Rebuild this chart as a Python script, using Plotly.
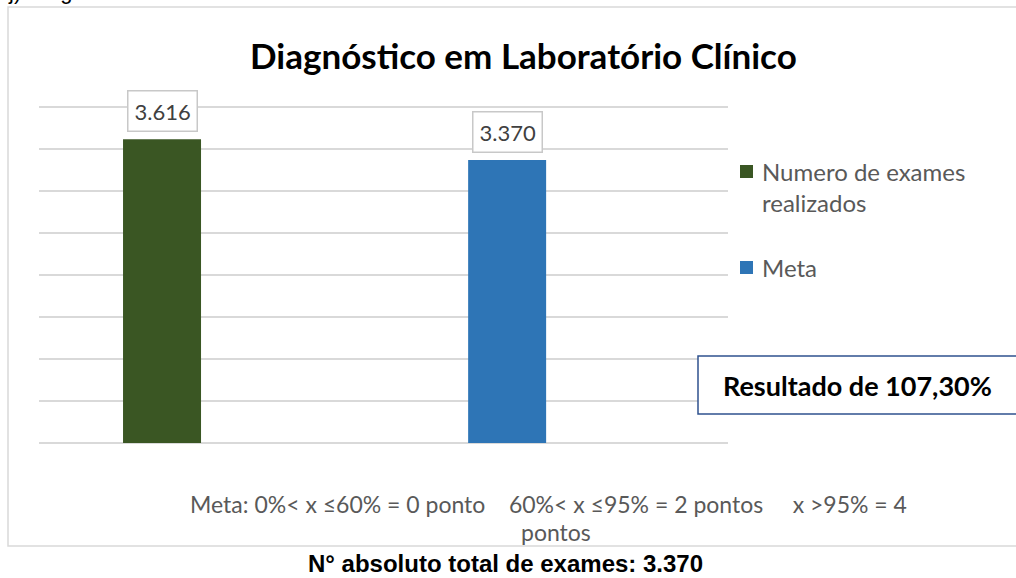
import plotly.graph_objects as go

# dados do gráfico
categorias = ["Numero de exames realizados", "Meta"]
legenda = [["Numero de exames", "realizados"], ["Meta"]]
valores = [3616, 3370]
cores = ["#3A5623", "#2E75B6"]

titulo = "Diagnóstico em Laboratório Clínico"
resultado = "Resultado de 107,30%"
regra_meta = ["Meta: 0%< x ≤60% = 0 ponto\u00a0\u00a0\u00a0\u00a060%< x ≤95% = 2 pontos\u00a0\u00a0\u00a0\u00a0\u00a0x >95% = 4",
              "pontos"]
rodape = "N° absoluto total de exames: 3.370"
cabecalho = "j) Diagnóstico em Laboratório Clínico"

W, H = 1016, 578
FONTE = "Lato, 'Open Sans', sans-serif"
ARIAL = "'Liberation Sans', Arial, sans-serif"
CINZA = "#595959"


def px(x):
    return x / W


def py(y):
    return 1 - y / H


def fmt(v):
    return f"{v:,}".replace(",", ".")


fig = go.Figure()

for cat, val, cor in zip(categorias, valores, cores):
    fig.add_trace(go.Bar(
        x=[cat], y=[val], width=0.226,
        marker=dict(color=cor, line=dict(width=0)),
        showlegend=False, hoverinfo="skip",
    ))

# rótulos de dados com caixa
for cat, val in zip(categorias, valores):
    fig.add_annotation(
        x=cat, y=val, xref="x", yref="y", text=fmt(val), showarrow=False,
        xanchor="center", yanchor="bottom", yshift=7,
        font=dict(family=FONTE, size=22, color="#404040"),
        bordercolor="#C8C8C8", borderwidth=1.5, borderpad=6, bgcolor="white",
    )

shapes = [
    # borda do gráfico
    dict(type="rect", xref="paper", yref="paper", x0=px(8), x1=px(1040),
         y0=py(546), y1=py(7), line=dict(color="#D9D9D9", width=1.5)),
    # caixa do resultado
    dict(type="rect", xref="paper", yref="paper", x0=px(698), x1=px(1040),
         y0=py(414), y1=py(356), line=dict(color="#2F528F", width=1.5),
         fillcolor="white"),
]

# legenda manual (texto quebrado em duas linhas, como no Excel)
leg_y = [172, 268]
annotations = []
for linhas, cor, y0 in zip(legenda, cores, leg_y):
    shapes.append(dict(type="rect", xref="paper", yref="paper",
                       x0=px(740), x1=px(753), y0=py(y0 + 6), y1=py(y0 - 7),
                       fillcolor=cor, line=dict(width=0)))
    for i, linha in enumerate(linhas):
        annotations.append(dict(
            x=px(760), y=py(y0 - 1 + i * 31), xanchor="left", text=linha,
            font=dict(family=FONTE, size=24, color=CINZA)))

annotations += [
    dict(x=px(523), y=py(55), text=f"<b>{titulo}</b>",
         font=dict(family=FONTE, size=35, color="black")),
    dict(x=px(857), y=py(385), text=f"<b>{resultado}</b>",
         font=dict(family=FONTE, size=27, color="black")),
    dict(x=px(548), y=py(504), text=regra_meta[0],
         font=dict(family=FONTE, size=23, color=CINZA)),
    dict(x=px(556), y=py(532), text=regra_meta[1],
         font=dict(family=FONTE, size=23, color=CINZA)),
    dict(x=px(505), y=py(563), text=f"<b>{rodape}</b>",
         font=dict(family=ARIAL, size=24, color="black")),
    dict(x=px(6), y=py(6), text=cabecalho, xanchor="left", yanchor="bottom",
         font=dict(family=ARIAL, size=22, color="black")),
]
for a in annotations:
    a.setdefault("xanchor", "center")
    a.setdefault("yanchor", "middle")
    fig.add_annotation(xref="paper", yref="paper", showarrow=False, **a)

fig.update_layout(
    width=W, height=H,
    margin=dict(l=0, r=0, t=0, b=0),
    paper_bgcolor="white", plot_bgcolor="white",
    barmode="overlay",
    shapes=shapes,
    xaxis=dict(domain=[px(39), px(728)], type="category",
               categoryorder="array", categoryarray=categorias,
               range=[-0.3565, 1.640], showticklabels=False,
               showgrid=False, zeroline=False, showline=False, ticks=""),
    yaxis=dict(domain=[py(443), py(105.3)], range=[0, 4020], dtick=500,
               showticklabels=False, gridcolor="#D9D9D9", gridwidth=1.5,
               zeroline=True, zerolinecolor="#D9D9D9", zerolinewidth=1.5,
               showline=False, ticks=""),
)

# sem a margem padrão do <body>, para o gráfico ocupar a janela inteira
fig.write_html("out.html", config={"displayModeBar": False},
               post_script="document.body.style.margin='0';")
